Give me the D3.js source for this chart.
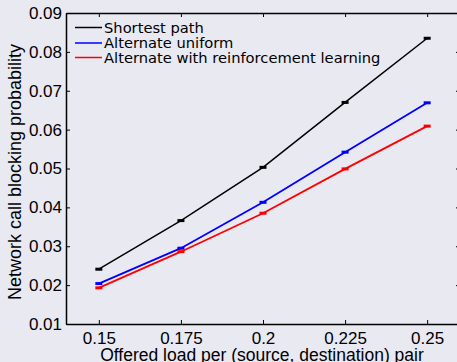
<!DOCTYPE html>
<html><head><meta charset="utf-8">
<script src="https://cdn.jsdelivr.net/npm/d3@7"></script>
<style>body{margin:0;background:#e9e9f2;}svg{display:block;}</style>
</head><body>
<script>
const loads = [0.15, 0.175, 0.2, 0.225, 0.25];
const shortestPath = [0.0241, 0.0366, 0.0503, 0.0670, 0.0835];
const alternateUniform = [0.0204, 0.0295, 0.0413, 0.0542, 0.0669];
const alternateRL = [0.0193, 0.0286, 0.0385, 0.0499, 0.0609];
const xTicks = [0.15, 0.175, 0.2, 0.225, 0.25];
const xTickLabels = ["0.15", "0.175", "0.2", "0.225", "0.25"];
const yTicks = [0.01, 0.02, 0.03, 0.04, 0.05, 0.06, 0.07, 0.08, 0.09];
const yTickLabels = ["0.01", "0.02", "0.03", "0.04", "0.05", "0.06", "0.07", "0.08", "0.09"];
const seriesNames = ["Shortest path", "Alternate uniform", "Alternate with reinforcement learning"];
const seriesColors = ["#000000", "#0000ff", "#ff0000"];

(function () {
const W = 457, H = 362;
const L = 66, R = 460, T = 13, B = 324;
const svg = d3.select("body").append("svg").attr("width", W).attr("height", H);
svg.append("rect").attr("width", W).attr("height", H).attr("fill", "#e9e9f2");

const x = d3.scaleLinear().domain([0.14, 0.26]).range([L, R]);
const y = d3.scaleLinear().domain([0.01, 0.09]).range([B, T]);

const tickFont = "Liberation Sans, Arial, sans-serif";

const gBottom = svg.append("g").attr("transform", `translate(0,${B})`)
  .call(d3.axisBottom(x).tickValues(xTicks).tickFormat((d, i) => xTickLabels[i]).tickSizeInner(-4).tickSizeOuter(0).tickPadding(8));
const gTop = svg.append("g").attr("transform", `translate(0,${T})`)
  .call(d3.axisTop(x).tickValues(xTicks).tickFormat("").tickSizeInner(-4).tickSizeOuter(0));
const gLeft = svg.append("g").attr("transform", `translate(${L},0)`)
  .call(d3.axisLeft(y).tickValues(yTicks).tickFormat((d, i) => yTickLabels[i]).tickSizeInner(-4).tickSizeOuter(0).tickPadding(4));
const gRight = svg.append("g").attr("transform", `translate(${R},0)`)
  .call(d3.axisRight(y).tickValues(yTicks).tickFormat("").tickSizeInner(-4).tickSizeOuter(0));
[gBottom, gTop, gLeft, gRight].forEach(g => {
  g.select(".domain").attr("stroke", "#000").attr("stroke-width", 1.5);
  g.selectAll(".tick line").attr("stroke", "#000").attr("stroke-width", 1);
  g.selectAll("text").attr("font-family", tickFont).attr("font-size", 17).attr("fill", "#000");
});

const allSeries = [shortestPath, alternateUniform, alternateRL];
const line = d3.line().x((d, i) => x(loads[i])).y(d => y(d));
allSeries.forEach((vals, s) => {
  svg.append("path").datum(vals).attr("d", line).attr("fill", "none")
    .attr("stroke", seriesColors[s]).attr("stroke-width", s === 0 ? 1.5 : 1.8);
  svg.selectAll(null).data(vals).enter().append("rect")
    .attr("x", (d, i) => x(loads[i]) - 3.5).attr("y", d => y(d) - 1.5)
    .attr("width", 7).attr("height", 3).attr("fill", seriesColors[s]);
});

const legendFont = "DejaVu Sans, sans-serif";
const lg = svg.append("g");
const legendY = [27.5, 43, 57.5];
seriesNames.forEach((name, i) => {
  lg.append("line").attr("x1", 75).attr("x2", 102).attr("y1", legendY[i]).attr("y2", legendY[i])
    .attr("stroke", seriesColors[i]).attr("stroke-width", 1.5);
  lg.append("text").attr("x", 104).attr("y", legendY[i] + 5).attr("font-family", legendFont)
    .attr("font-size", 14.7).attr("fill", "#000").text(name);
});

svg.append("text").attr("x", 262).attr("y", 361).attr("text-anchor", "middle")
  .attr("font-family", tickFont).attr("font-size", 17.5).attr("fill", "#000")
  .text("Offered load per (source, destination) pair");
svg.append("text").attr("transform", `translate(21,172) rotate(-90)`).attr("text-anchor", "middle")
  .attr("font-family", tickFont).attr("font-size", 18).attr("fill", "#000")
  .text("Network call blocking probability");
})();
</script>
</body></html>
